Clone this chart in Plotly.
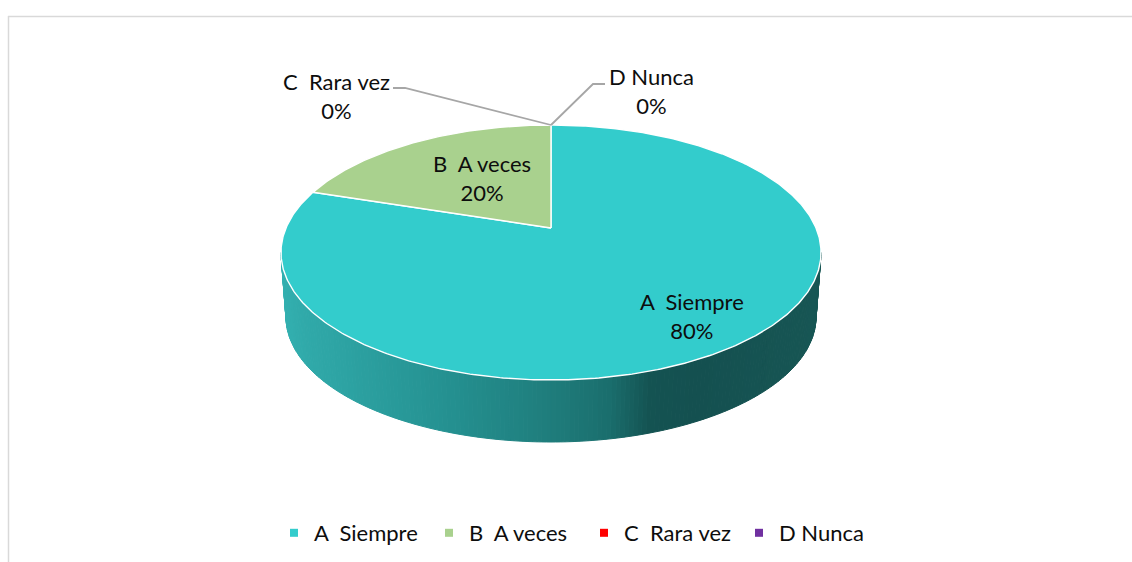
import math
import plotly.graph_objects as go

categories = ["A  Siempre", "B  A veces", "C  Rara vez", "D Nunca"]
values = [80, 20, 0, 0]
colors = ["#33CCCC", "#A9D18E", "#FF0000", "#7030A0"]

W, H = 1132, 562
CX = 551
K = 0.192      # perspective of the pie's top face
APEX_Y, A_Y, C_X = 228, -79, 265
WALL_STOPS = [(281, "#33b0b0"), (300, "#30aaaa"), (450, "#249090"), (550, "#1f7d7c"),
              (610, "#1a6e6d"), (650, "#145352"), (700, "#145050"), (821, "#175654")]


def project(theta):
    # angle clockwise from 12 o'clock -> page position of rim point
    X, Y = math.sin(theta), math.cos(theta)
    w = 1 + K * Y
    return CX + C_X * X / w, (A_Y * Y + APEX_Y) / w


def hex2rgb(h):
    return [int(h[i:i + 2], 16) for i in (1, 3, 5)]


def wall_color(x):
    for (x0, c0), (x1, c1) in zip(WALL_STOPS, WALL_STOPS[1:]):
        if x <= x1:
            t = max(0, (x - x0) / (x1 - x0))
            a, b = hex2rgb(c0), hex2rgb(c1)
            return "rgb(%d,%d,%d)" % tuple(round(p + (q - p) * t) for p, q in zip(a, b))
    return WALL_STOPS[-1][1]


fig = go.Figure()

# Side wall of the pie, cut in thin slices for its shading
N = 180
for i in range(N):
    a0, a1 = math.pi * i / N, math.pi * (i + 1) / N
    top = lambda a: (CX + 270 * math.cos(a), 252.5 + 127.5 * math.sin(a))
    bot = lambda a: (CX + 265 * math.cos(a), 317 + 125 * math.sin(a))
    pts = [top(a0), top(a1), bot(a1), bot(a0), top(a0)]
    col = wall_color(CX + 270 * math.cos((a0 + a1) / 2))
    fig.add_trace(go.Scatter(x=[p[0] for p in pts], y=[p[1] for p in pts], mode="lines",
                             fill="toself", fillcolor=col, line=dict(color=col, width=1),
                             hoverinfo="skip", showlegend=False))

# Top face, slices from the values
total = sum(values)
cum = 0
for name, v, c in zip(categories, values, colors):
    start = cum / total * 2 * math.pi
    cum += v
    end = cum / total * 2 * math.pi
    if v == 0:
        continue
    n = max(2, int(v * 6))
    rim = [project(start + (end - start) * j / n) for j in range(n + 1)]
    pts = [(CX, APEX_Y)] + rim + [(CX, APEX_Y)]
    fig.add_trace(go.Scatter(x=[p[0] for p in pts], y=[p[1] for p in pts], mode="lines",
                             fill="toself", fillcolor=c, line=dict(color="#ffffff", width=1.4),
                             hoverinfo="skip", showlegend=False))

# Leader lines for the empty slices
rim_top = project(0)
for lx, ly in (([393, 405, rim_top[0]], [88, 88, rim_top[1]]),
               ([605, 593, rim_top[0]], [84, 84, rim_top[1]])):
    fig.add_trace(go.Scatter(x=lx, y=ly, mode="lines", line=dict(color="#a6a6a6", width=1.8),
                             hoverinfo="skip", showlegend=False))

# Legend entries
for name, c in zip(categories, colors):
    fig.add_trace(go.Scatter(x=[None], y=[None], mode="markers", name=name,
                             marker=dict(symbol="square", size=8, color=c)))

label_pos = [(692, 316), (482, 178), (336, 96), (651, 91)]
FONT = dict(family="Lato, Carlito, sans-serif", size=22, color="#0d0d0d")
for name, v, (x, y) in zip(categories, values, label_pos):
    fig.add_annotation(x=x, y=y, text=f"{name}<br>{round(v / total * 100)}%", showarrow=False,
                       font=FONT, align="center", xanchor="center", yanchor="middle")

fig.update_layout(
    width=W, height=H, margin=dict(l=0, r=0, t=0, b=0),
    paper_bgcolor="white", plot_bgcolor="white", font=FONT,
    xaxis=dict(range=[0, W], visible=False, fixedrange=True),
    yaxis=dict(range=[H, 0], visible=False, fixedrange=True),
    legend=dict(orientation="h", x=274 / W, xanchor="left",
                y=1 - 533 / H, yanchor="middle",
                itemwidth=30, entrywidth=110, entrywidthmode="pixels",
                font=FONT, bgcolor="rgba(0,0,0,0)"),
    shapes=[
        dict(type="line", xref="x", yref="y", x0=8, x1=W, y0=16.5, y1=16.5,
             line=dict(color="#d9d9d9", width=1.5)),
        dict(type="line", xref="x", yref="y", x0=8.5, x1=8.5, y0=16, y1=H,
             line=dict(color="#d9d9d9", width=1.5)),
    ],
)
fig.write_html("out.html", config={"displayModeBar": False},
               post_script="document.body.style.margin='0';")
